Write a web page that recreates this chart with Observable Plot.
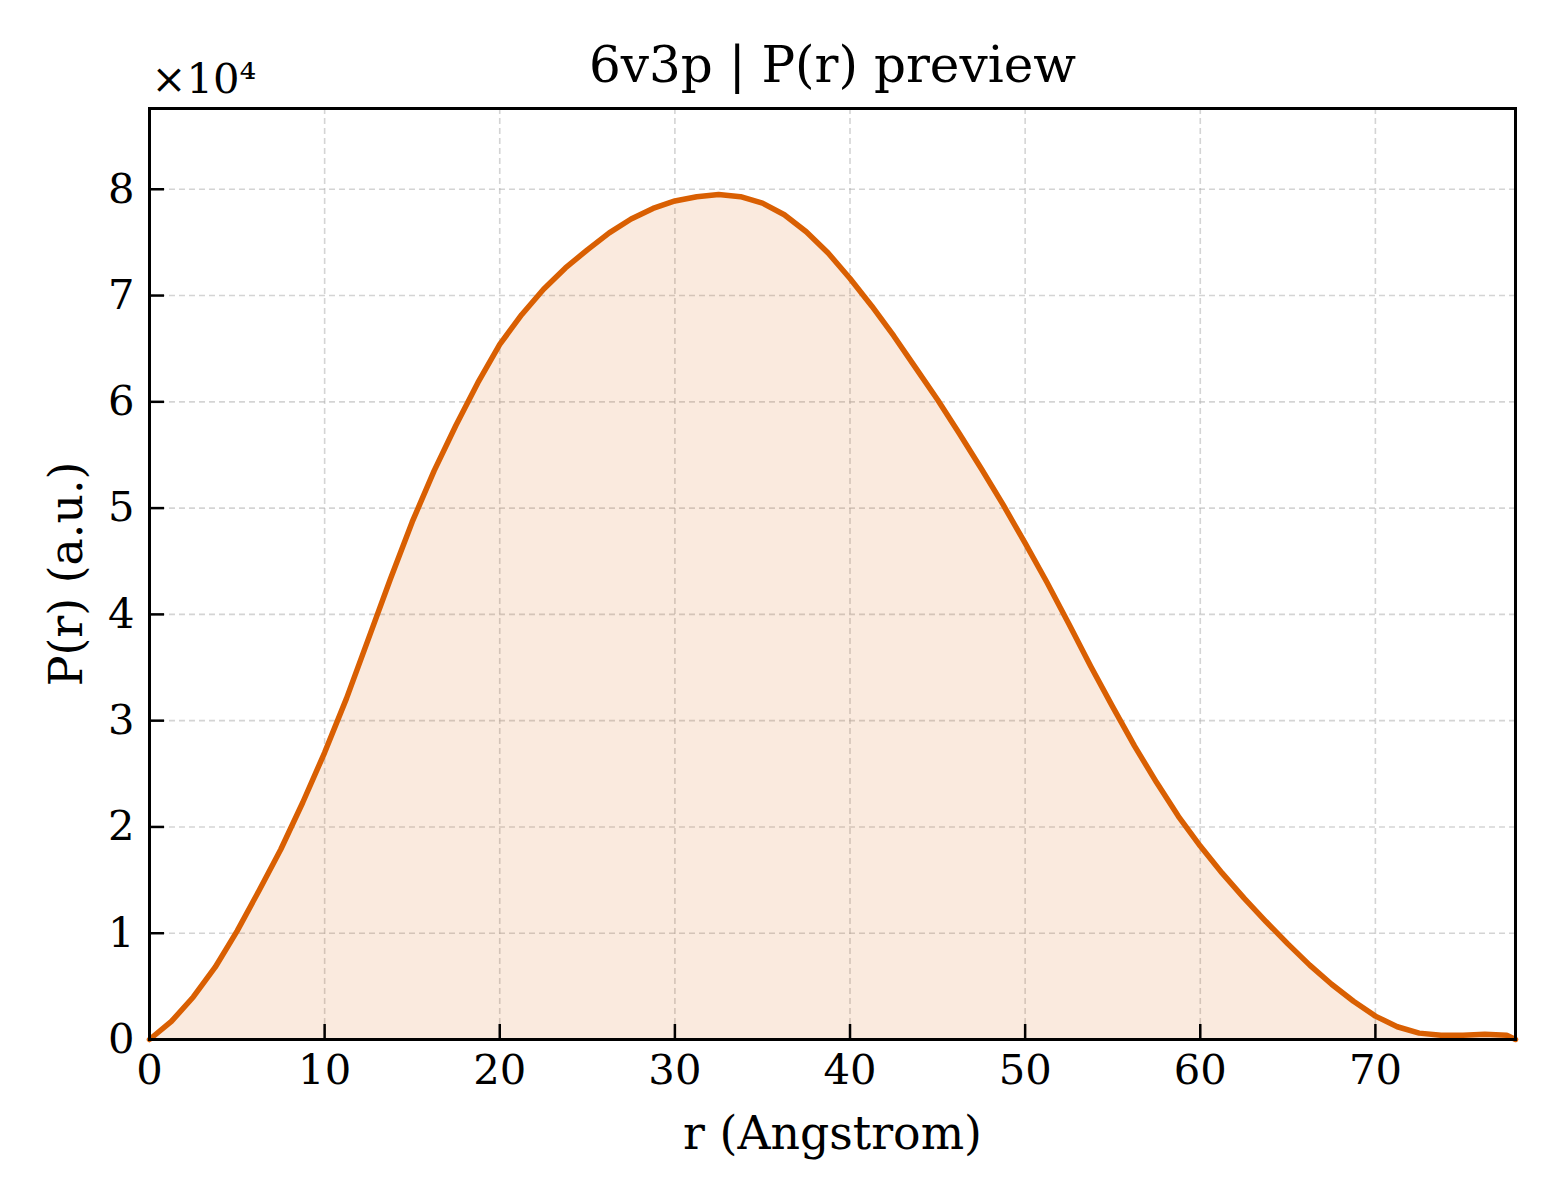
<!DOCTYPE html>
<html>
<head>
<meta charset="utf-8">
<script src="https://cdn.jsdelivr.net/npm/d3@7"></script>
<script src="https://cdn.jsdelivr.net/npm/@observablehq/plot@0.6"></script>
<style>
  html, body { margin: 0; padding: 0; background: white; }
</style>
</head>
<body>
<div id="chart"></div>
<script>
const title = "6v3p | P(r) preview";
const xLabel = "r (Angstrom)";
const yLabel = "P(r) (a.u.)";
const exponentLabel = "×10⁴";

const rValues = [0, 1.25, 2.5, 3.75, 5, 6.25, 7.5, 8.75, 10, 11.25, 12.5, 13.75, 15, 16.25, 17.5, 18.75, 20, 21.25, 22.5, 23.75, 25, 26.25, 27.5, 28.75, 30, 31.25, 32.5, 33.75, 35, 36.25, 37.5, 38.75, 40, 41.25, 42.5, 43.75, 45, 46.25, 47.5, 48.75, 50, 51.25, 52.5, 53.75, 55, 56.25, 57.5, 58.75, 60, 61.25, 62.5, 63.75, 65, 66.25, 67.5, 68.75, 70, 71.25, 72.5, 73.75, 75, 76.25, 77.5, 78];
const pValues = [0, 1700, 4000, 6800, 10200, 14000, 17900, 22300, 27000, 32100, 37700, 43300, 48700, 53500, 57800, 61800, 65400, 68200, 70600, 72600, 74300, 75900, 77200, 78200, 78900, 79300, 79500, 79300, 78700, 77600, 76000, 74000, 71600, 69000, 66200, 63200, 60200, 57000, 53700, 50300, 46700, 43000, 39100, 35100, 31300, 27600, 24200, 21000, 18200, 15650, 13300, 11100, 9000, 7000, 5200, 3600, 2200, 1200, 600, 400, 400, 500, 400, 0];

const xTicks = [0, 10, 20, 30, 40, 50, 60, 70];
const yTicks = [0, 10000, 20000, 30000, 40000, 50000, 60000, 70000, 80000];

const lineColor = "#d95f02";

const data = rValues.map((r, i) => ({r, p: pValues[i]}));

const chart = Plot.plot({
  width: 1560,
  height: 1200,
  marginLeft: 149,
  marginRight: 45,
  marginTop: 108,
  marginBottom: 161,
  style: {fontFamily: "'DejaVu Serif', serif", background: "white", color: "black"},
  x: {domain: [0, 78]},
  y: {domain: [0, 87600]},
  marks: [
    Plot.gridX(xTicks, {stroke: "#b0b0b0", strokeOpacity: 0.55, strokeDasharray: "6,4", strokeWidth: 1.6}),
    Plot.gridY(yTicks, {stroke: "#b0b0b0", strokeOpacity: 0.55, strokeDasharray: "6,4", strokeWidth: 1.6}),
    Plot.areaY(data, {x: "r", y: "p", fill: lineColor, fillOpacity: 0.13}),
    Plot.lineY(data, {x: "r", y: "p", stroke: lineColor, strokeWidth: 5.5}),
    Plot.axisX(xTicks, {tickSize: -15, tickPadding: 30, fontSize: 41.7, label: null, strokeWidth: 2.5, tickFormat: d => String(d)}),
    Plot.axisY(yTicks, {tickSize: -15, tickPadding: 30, fontSize: 41.7, label: null, strokeWidth: 2.5, tickFormat: d => String(d / 10000)}),
    Plot.frame({stroke: "black", strokeWidth: 3}),
    Plot.text([xLabel], {frameAnchor: "bottom", dy: 109, fontSize: 45.8}),
    Plot.text([yLabel], {frameAnchor: "left", dx: -82, rotate: -90, textAnchor: "middle", fontSize: 45.8}),
    Plot.text([title], {frameAnchor: "top", dy: -62, fontSize: 50}),
    Plot.text([exponentLabel], {frameAnchor: "top-left", dx: 2, dy: -45, textAnchor: "start", fontSize: 41.7})
  ]
});
document.getElementById("chart").appendChild(chart);
</script>
</body>
</html>
